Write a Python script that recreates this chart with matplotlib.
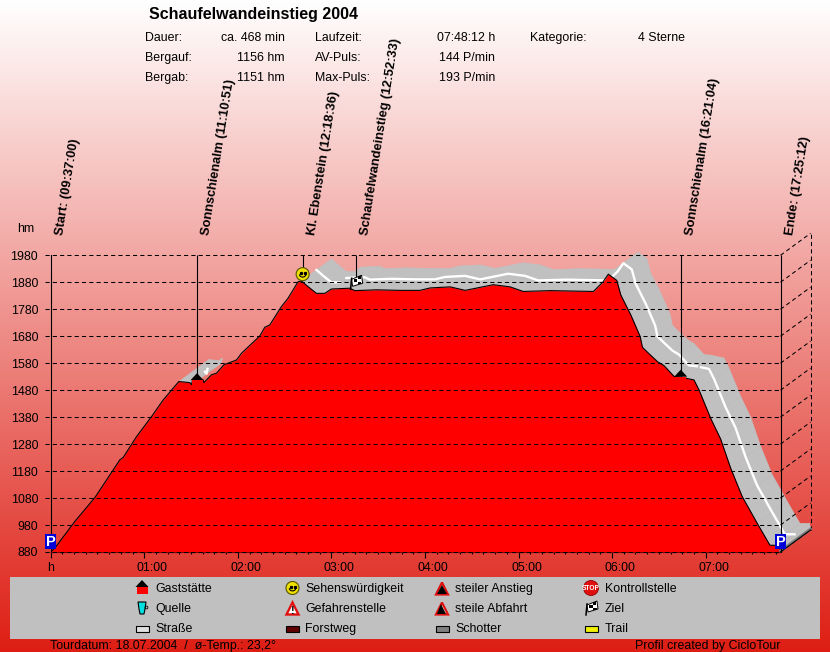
#!/usr/bin/env python3
# -*- coding: utf-8 -*-
import matplotlib
matplotlib.use("Agg")
import matplotlib.pyplot as plt
import numpy as np
from matplotlib.collections import PolyCollection
from matplotlib.patches import Circle, Polygon, Rectangle
from matplotlib.ticker import MultipleLocator
from matplotlib.transforms import ScaledTranslation

plt.rcParams["font.family"] = ["Liberation Sans", "DejaVu Sans"]
FS = 8.9

# profile: hours since start, height in hm
profile_h = [0, .046, .26, .473, .74, .776, .918, 1.078, 1.203, 1.37, 1.488, 1.505, 1.516, 1.63, 1.637,
             1.719, 1.772, 1.851, 1.986, 2.04, 2.235, 2.288, 2.342, 2.466, 2.537, 2.644, 2.68, 2.75, 2.84,
             2.93, 3.0, 3.196, 3.25, 3.48, 3.734, 3.947, 4.055, 4.269, 4.43, 4.73, 4.91, 5.05, 5.34, 5.8,
             5.9, 5.96, 6.05, 6.093, 6.2, 6.3, 6.324, 6.395, 6.484, 6.555, 6.662, 6.745, 6.79, 6.875, 6.929, 7.053,
             7.16, 7.267, 7.39, 7.55, 7.687, 7.79, 7.803]
profile_hm = [880, 895, 994, 1082, 1222, 1231, 1308, 1382, 1444, 1512, 1508, 1500, 1518, 1518, 1508,
              1537, 1543, 1574, 1592, 1617, 1681, 1713, 1722, 1790, 1821, 1882, 1885, 1864, 1839,
              1839, 1855, 1858, 1849, 1852, 1850, 1850, 1859, 1863, 1850, 1871, 1863, 1846, 1849, 1846,
              1880, 1910, 1887, 1833, 1759, 1679, 1639, 1615, 1586, 1571, 1531, 1528, 1524, 1518, 1481, 1376,
              1299, 1191, 1086, 987, 905, 905, 880]

# stretches where the road band shows, and where the white centre line runs
band_ranges = [(1.37, 1.52), (1.986, 2.04), (2.68, 7.803)]
white_ranges = [(1.38, 1.52), (2.68, 2.93), (3.0, 6.745), (6.79, 7.79)]

y_ticks = list(range(880, 1981, 100))
x_ticks = [0, 1, 2, 3, 4, 5, 6, 7]
x_labels = ["h", "01:00", "02:00", "03:00", "04:00", "05:00", "06:00", "07:00"]

event_labels = ["Start: (09:37:00)", "Sonnschienalm (11:10:51)", "Kl. Ebenstein (12:18:36)",
                "Schaufelwandeinstieg (12:52:33)", "Sonnschienalm (16:21:04)", "Ende: (17:25:12)"]
event_h = [0, 1.564, 2.693, 3.259, 6.734, 7.803]
event_low = [880, 1530, 1925, 1900, 1530, 880]
event_icon = ["park", "hut", "smile", "flag", "hut", "park"]
event_icon_hm = [918, 1517, 1910, 1880, 1530, 918]

info_rows = [("Dauer:", "ca. 468 min", "Laufzeit:", "07:48:12 h", "Kategorie:", "4 Sterne"),
             ("Bergauf:", "1156 hm", "AV-Puls:", "144 P/min", "", ""),
             ("Bergab:", "1151 hm", "Max-Puls:", "193 P/min", "", "")]
legend_cols = [["Gaststätte", "Quelle", "Straße"],
               ["Sehenswürdigkeit", "Gefahrenstelle", "Forstweg"],
               ["steiler Anstieg", "steile Abfahrt", "Schotter"],
               ["Kontrollstelle", "Ziel", "Trail"]]
legend_icons = [["hut", "tap", "road_w"], ["smile", "danger", "road_b"],
                ["up", "down", "road_g"], ["stop", "flag", "road_y"]]

W, H = 830, 652
fig = plt.figure(figsize=(W / 100, H / 100), dpi=100)

# background
bg = fig.add_axes([0, 0, 1, 1], zorder=0)
grad = np.linspace(0, 1, H)[:, None, None] * (np.array([222, 30, 20]) - 255) + 255
bg.imshow(grad.astype(np.uint8), aspect="auto", extent=(0, W, H, 0))
bg.axis("off")

# main plot, box in pixels
left, right, top, bottom = 50.67, 780.5, 255.3, 552
ax = fig.add_axes([left / W, 1 - bottom / H, (right - left) / W, (bottom - top) / H], zorder=1)
ax.patch.set_alpha(0)
ax.set_xlim(0, 7.8)
ax.set_ylim(880, 1980)
for s in ["top", "right"]:
    ax.spines[s].set_visible(False)
for s in ["left", "bottom"]:
    ax.spines[s].set_linewidth(0.8)

h = np.array(profile_h)
hm = np.array(profile_hm)
dh, dm = 30 / 93.55, 22 / 0.27  # depth of the 3d look


def in_ranges(x, ranges):
    return any(a <= x <= b for a, b in ranges)


# road surface behind the profile
quads = []
for i in range(len(h) - 1):
    if in_ranges(h[i], band_ranges) and in_ranges(h[i + 1], band_ranges):
        quads.append([(h[i], hm[i]), (h[i + 1], hm[i + 1]), (h[i + 1] + dh, hm[i + 1] + dm), (h[i] + dh, hm[i] + dm)])
ax.add_collection(PolyCollection(quads, facecolors="#c0c0c0", edgecolors="#c0c0c0", linewidths=0.4,
                                 zorder=1, clip_on=False))
for a, b in white_ranges:
    m = (h >= a) & (h <= b)
    ax.plot(h[m] + dh / 2, hm[m] + dm / 2, color="white", lw=1.7, zorder=2, clip_on=False)
ax.fill_between(h, 880, hm, color="#ff0000", lw=0, zorder=3)
ax.plot(h, hm, color="black", lw=0.8, zorder=4)

# grid and side wall
dash = (0, (4, 3))
for y in y_ticks:
    ax.plot([-0.06, 7.8], [y, y], color="black", lw=0.75, ls=dash, zorder=5, clip_on=False)
    ax.plot([7.8, 7.8 + dh], [y, y + dm], color="black", lw=0.75, ls=dash, zorder=5, clip_on=False)
ax.plot([7.8 + dh] * 2, [880 + dm, 1980 + dm], color="black", lw=0.75, ls=dash, zorder=5, clip_on=False)
ax.plot([7.8, 7.8 + dh], [884, 880 + dm + 4], color="#808080", lw=2, zorder=5, clip_on=False)
ax.plot([7.8, 7.8 + dh], [880, 880 + dm], color="black", lw=0.8, zorder=5, clip_on=False)
ax.vlines(event_h[1:], event_low[1:], 1980, color="black", lw=0.8, zorder=5, clip_on=False)

ax.set_yticks(y_ticks)
ax.set_xticks(x_ticks)
ax.set_xticklabels(x_labels, fontsize=FS)
ax.set_yticklabels([str(y) for y in y_ticks], fontsize=FS)
ax.xaxis.set_minor_locator(MultipleLocator(1 / 8))
ax.tick_params(axis="x", which="major", length=4, width=0.8, pad=3)
ax.tick_params(axis="x", which="minor", length=1.5, width=0.8)
ax.tick_params(axis="y", length=0, pad=9)
# hour labels sit a bit right of their ticks
for lab in ax.get_xticklabels()[1:]:
    lab.set_transform(lab.get_transform() + ScaledTranslation(8 / 100, 0, fig.dpi_scale_trans))

# top layer in plain pixels for texts and glyphs
top_ax = fig.add_axes([0, 0, 1, 1], zorder=2)
top_ax.set_xlim(0, W)
top_ax.set_ylim(H, 0)
top_ax.axis("off")


def to_px(x, y):
    return top_ax.transData.inverted().transform(ax.transData.transform((x, y)))


def tri(x, y, pts, **kw):
    top_ax.add_patch(Polygon([(x + a, y + b) for a, b in pts], closed=True, **kw))


def draw_icon(name, x, y):
    if name == "park":
        top_ax.add_patch(Rectangle((x - 5.5, y - 7.5), 11, 15, fc="#0000d8", ec="none"))
        top_ax.text(x, y, "P", color="white", fontsize=10.5, fontweight="bold", ha="center", va="center")
    elif name == "hut":
        tri(x, y, [(-6.5, 0), (0, -7), (6.5, 0)], fc="black", ec="none")
        top_ax.add_patch(Rectangle((x - 5.5, y), 11, 7, fc="#ff0000", ec="none"))
    elif name == "smile":
        top_ax.add_patch(Circle((x, y), 6.5, fc="#f0e000", ec="#555500", lw=0.8))
        top_ax.plot([x - 2, x + 2], [y - 1.5, y - 1.5], ls="none", marker="s", ms=1.3, color="black")
        t = np.linspace(0.2, np.pi - 0.2, 12)
        top_ax.plot(x + 3.2 * np.cos(t), y + 0.3 + 2.6 * np.sin(t), color="black", lw=0.8)
    elif name == "flag":
        top_ax.plot([x - 5, x - 4], [y + 7, y - 4], color="black", lw=1.1)
        top_ax.add_patch(Polygon([(x - 4, y - 3), (x + 6, y - 7), (x + 7, y + 1), (x - 3, y + 4)], fc="white", ec="black", lw=0.7))
        top_ax.add_patch(Rectangle((x - 2, y - 3), 3.5, 3, fc="black", ec="none"))
        top_ax.add_patch(Rectangle((x + 2, y - 6), 3, 3, fc="black", ec="none"))
        top_ax.add_patch(Rectangle((x + 2, y - 0.5), 3.5, 2.5, fc="black", ec="none"))
    elif name == "tap":
        tri(x, y, [(-4, -6), (4, -6), (3, 1), (2, 6), (-2, 6), (-3, 1)], fc="#00e0e0", ec="black", lw=0.8)
        top_ax.plot([x + 4], [y - 1], marker="o", ms=2, mfc="none", mec="black", mew=0.6)
    elif name == "danger":
        tri(x, y, [(-6, 6.5), (0, -5.5), (6, 6.5)], fc="white", ec="#e01010", lw=1.7)
        top_ax.text(x, y + 2.5, "!", color="black", fontsize=8, fontweight="bold", ha="center", va="center")
    elif name in ("up", "down"):
        tri(x, y, [(-6, 6.5), (0, -5.5), (6, 6.5)], fc="white", ec="#e01010", lw=1.6)
        pts = [(-5, 6), (5, 6), (0, -3)] if name == "up" else [(-5, 6), (4, 6), (-1, -4)]
        tri(x, y, pts, fc="black", ec="none")
    elif name == "stop":
        top_ax.add_patch(Circle((x, y), 7.5, fc="#e01010", ec="#900000", lw=0.6))
        top_ax.text(x, y, "STOP", color="white", fontsize=4.8, fontweight="bold", ha="center", va="center")
    else:
        fc = {"road_w": "#e0e0e0", "road_b": "#600000", "road_g": "#808080", "road_y": "#f0f000"}[name]
        top_ax.add_patch(Rectangle((x - 6.5, y - 2.5), 13, 6, fc=fc, ec="black", lw=0.8))


# events
for label, x, icon, y in zip(event_labels, event_h, event_icon, event_icon_hm):
    px, py = to_px(x, y)
    draw_icon(icon, px, py)
    bx = to_px(x, 880)[0] + 12
    top_ax.text(bx, 236, label, rotation=81, rotation_mode="anchor", ha="left", va="baseline",
                fontsize=9.3, fontweight="bold")

top_ax.text(26, 229, "hm", fontsize=FS, ha="center", va="center")

# header
top_ax.text(149, 14, "Schaufelwandeinstieg 2004", fontsize=11.5, fontweight="bold", va="center")
for row, y in zip(info_rows, [38, 58, 78]):
    for txt, x, ha in zip(row, [145, 285, 315, 495, 530, 685], ["left", "right"] * 3):
        top_ax.text(x, y, txt, fontsize=FS, ha=ha, va="center")

# legend panel
top_ax.add_patch(Rectangle((10, 577), 810, 62, fc="#c0c0c0", ec="none"))
for col, icons, ix, tx in zip(legend_cols, legend_icons, [142, 292.5, 442, 591], [155, 305, 455, 605]):
    for txt, icon, y in zip(col, icons, [588, 608, 628]):
        draw_icon(icon, ix, y - 1 if icon == "hut" else y)
        top_ax.text(tx, y + 1, txt, fontsize=FS, va="center")

top_ax.text(50, 646, "Tourdatum: 18.07.2004  /  ø-Temp.: 23,2°", fontsize=FS, va="center")
top_ax.text(780, 646, "Profil created by CicloTour", fontsize=FS, ha="right", va="center")

fig.savefig("out.png", dpi=100)
